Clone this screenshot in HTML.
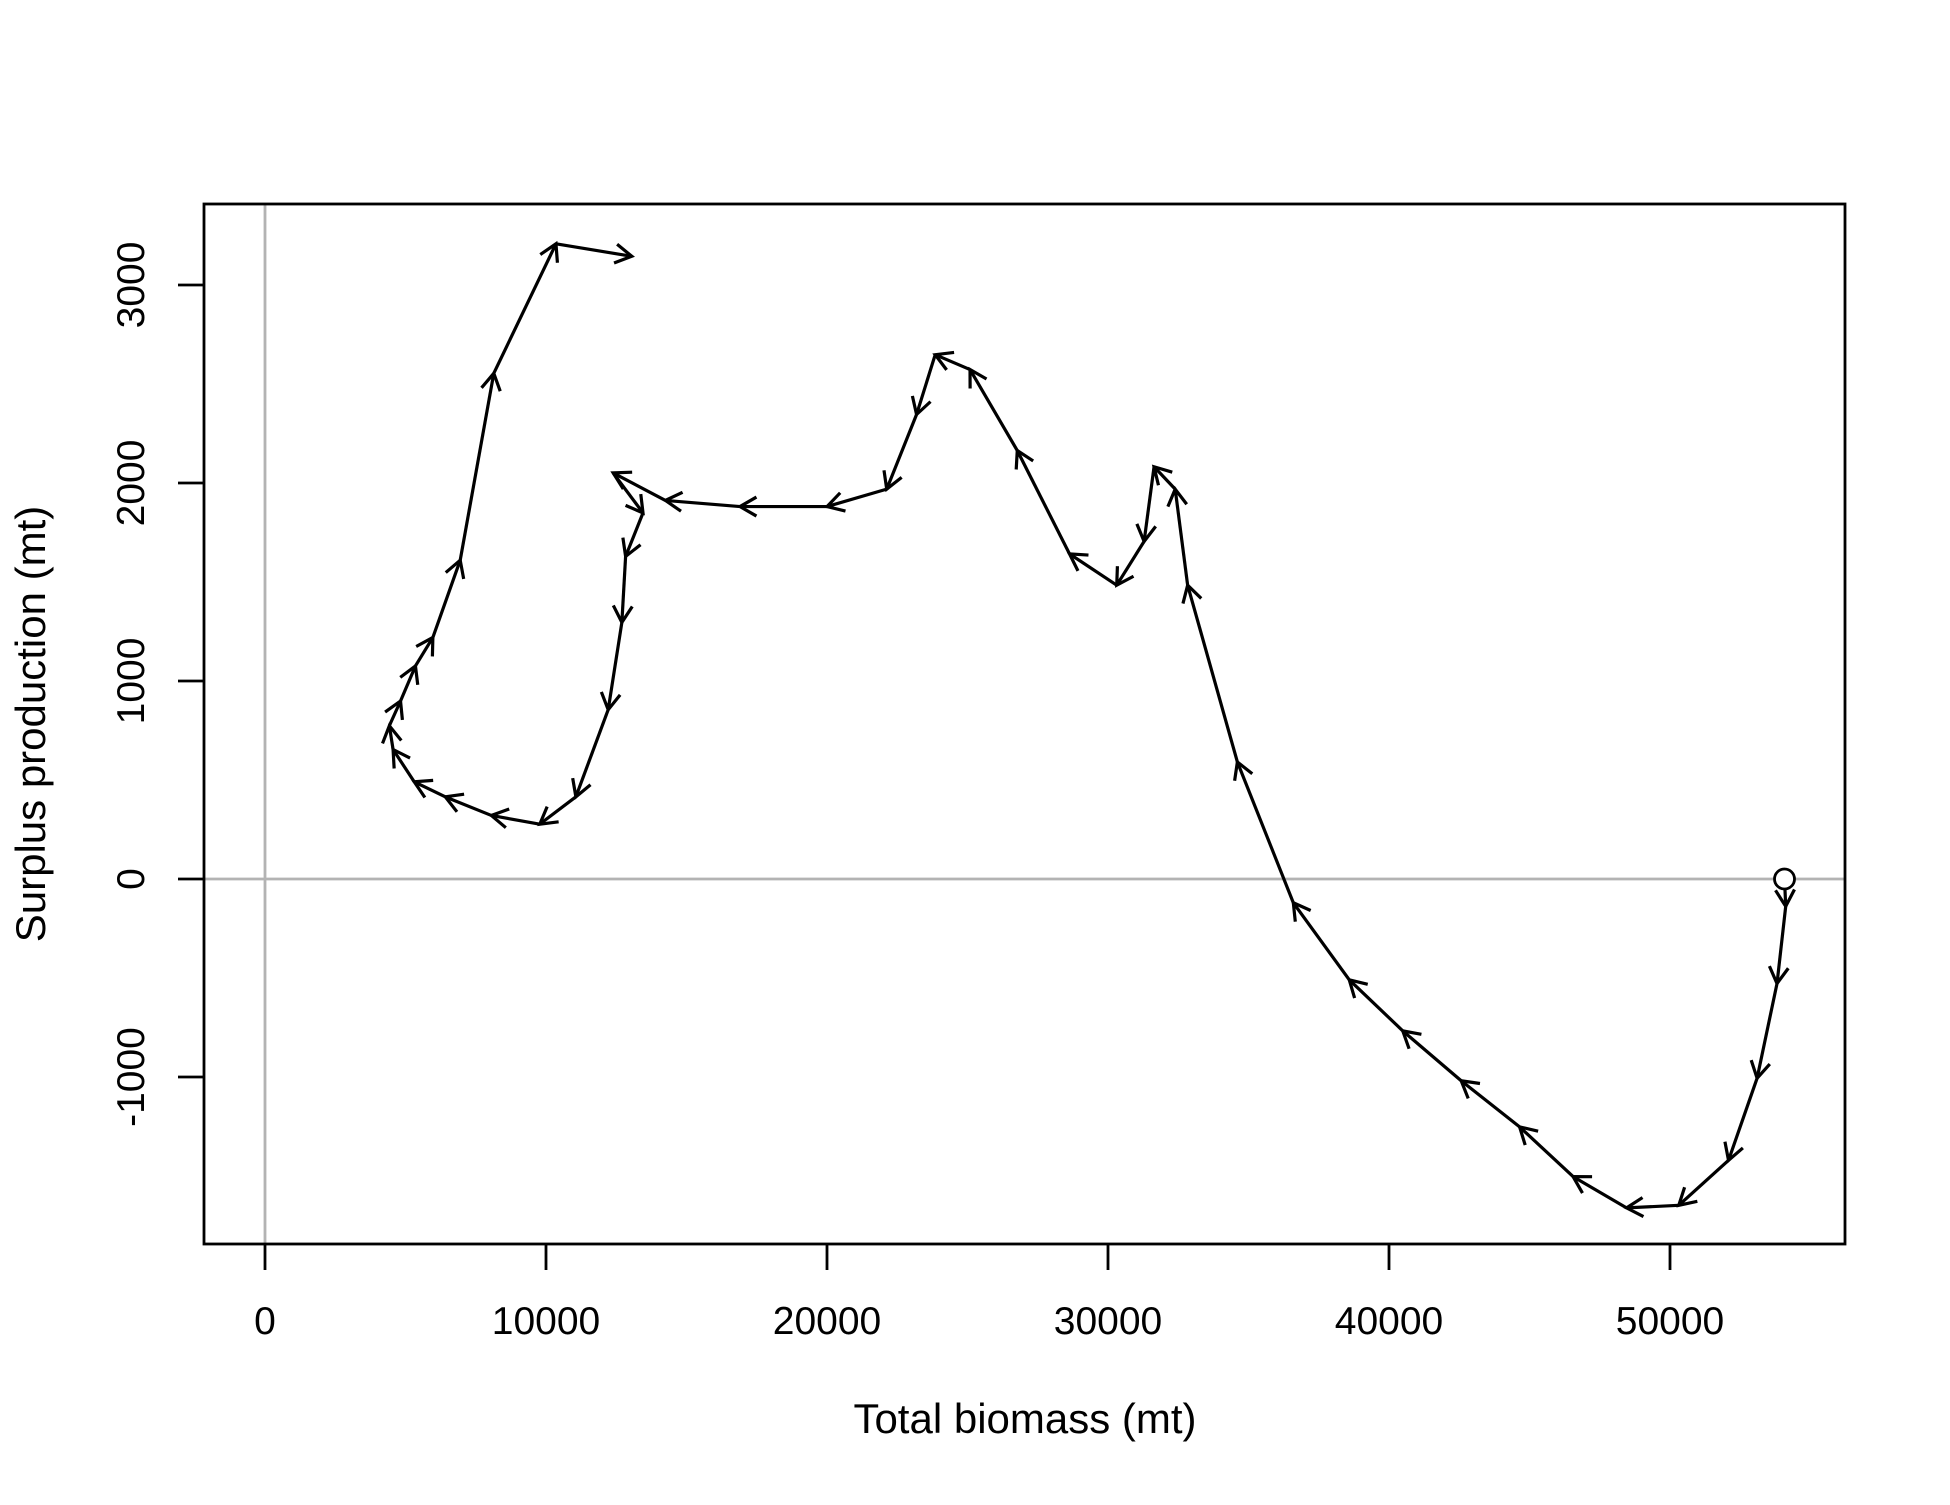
<!DOCTYPE html>
<html><head><meta charset="utf-8"><style>
html,body{margin:0;padding:0;background:#fff;}
svg text{font-family:"Liberation Sans",Arial,sans-serif;font-size:39px;fill:#000;}
svg text.title{font-size:42px;}
</style></head><body>
<svg id="chart" width="1950" height="1500" xmlns="http://www.w3.org/2000/svg">
<g id="grid"></g>
<g id="axes"></g>
<g id="series"></g>
<rect x="204" y="204" width="1641" height="1040" fill="none" stroke="#000" stroke-width="2.8"/>
<text class="title" x="1025" y="1433" text-anchor="middle">Total biomass (mt)</text>
<text class="title" transform="translate(45,724) rotate(-90)" text-anchor="middle">Surplus production (mt)</text>
</svg>
<script>
const biomass=[54075,54118,53808,53100,52082,50312,48454,46551,44648,42569,40489,38586,36595,34604,32834,32391,31639,31285,30311,28630,26771,25090,23851,23187,22125,20001,16904,14249,12390,13452,12833,12700,12213,11063,9779,8054,6416,5310,4558,4425,4823,5354,5974,6947,8142,10355,13054];
const production=[0,-138,-528,-1006,-1421,-1648,-1661,-1503,-1252,-1019,-767,-509,-120,591,1484,1969,2082,1705,1484,1642,2164,2573,2648,2346,1969,1881,1881,1912,2051,1849,1629,1296,855,415,277,321,415,491,654,774,899,1076,1220,1610,2554,3208,3145];
const xTicks=[0,10000,20000,30000,40000,50000];
const yTicks=[-1000,0,1000,2000,3000];
const NS='http://www.w3.org/2000/svg';
function xs(v){return 265+v*0.0281;}
function ys(v){return 879-v*0.198;}
function mk(tag,attrs,parent){const e=document.createElementNS(NS,tag);for(const k in attrs)e.setAttribute(k,attrs[k]);parent.appendChild(e);return e;}
const grid=document.getElementById('grid'),axes=document.getElementById('axes'),series=document.getElementById('series');
let l=mk('line',{x1:xs(0),x2:xs(0),y1:204,y2:1244,stroke:'#b3b3b3','stroke-width':2.8},grid);


l=mk('line',{x1:204,x2:1845,y1:ys(0),y2:ys(0),stroke:'#b3b3b3','stroke-width':2.8},grid);


xTicks.forEach(t=>{
  const tk=mk('line',{x1:xs(t),x2:xs(t),y1:1244,y2:1270,stroke:'#000','stroke-width':2.8},axes);
  
  
  const tx=mk('text',{x:xs(t),y:1334,'text-anchor':'middle'},axes);tx.textContent=t;
  
  
});
yTicks.forEach(t=>{
  const tk=mk('line',{x1:178,x2:204,y1:ys(t),y2:ys(t),stroke:'#000','stroke-width':2.8},axes);
  
  
  const tx=mk('text',{transform:'translate(144,'+ys(t)+') rotate(-90)','text-anchor':'middle'},axes);tx.textContent=t;
  
  
});
for(let i=0;i<biomass.length-1;i++){
  const x1=xs(biomass[i]),y1=ys(production[i]),x2=xs(biomass[i+1]),y2=ys(production[i+1]);
  const seg=mk('line',{x1:x1,y1:y1,x2:x2,y2:y2,stroke:'#000','stroke-width':3.2},series);
  
  
  const a=Math.atan2(y2-y1,x2-x1),L=19,w=Math.PI/6;
  const p=[x2-L*Math.cos(a-w),y2-L*Math.sin(a-w),x2,y2,x2-L*Math.cos(a+w),y2-L*Math.sin(a+w)];
  const ah=mk('polyline',{points:p.join(' '),fill:'none',stroke:'#000','stroke-width':3.2},series);
  
  
}
const c=mk('circle',{cx:xs(biomass[0]),cy:ys(production[0]),r:10,fill:'#fff',stroke:'#000','stroke-width':2.8},series);


</script>
</body></html>
